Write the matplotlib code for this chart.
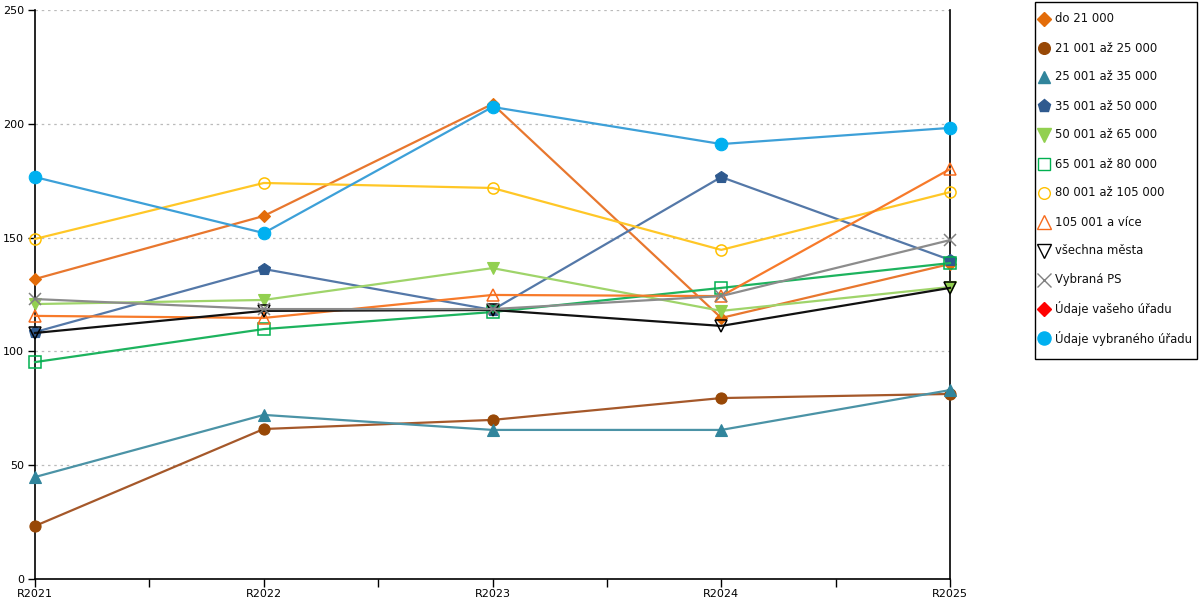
import matplotlib
matplotlib.use("Agg")
import matplotlib.pyplot as plt
import numpy as np
from matplotlib.lines import Line2D
from matplotlib.patches import Rectangle

plt.rcParams['font.family'] = ['DejaVu Sans']

years = ["R2021", "R2022", "R2023", "R2024", "R2025"]

do_21000 = [131.8, 159.5, 208.7, 114.7, 138.4]
s21_25 = [23.3, 65.9, 69.9, 79.5, 81.3]
s25_35 = [44.8, 72.1, 65.5, 65.5, 83.0]
s35_50 = [108.5, 136.2, 118.2, 176.6, 140.2]
s50_65 = [120.8, 122.6, 136.6, 117.8, 128.3]
s65_80 = [95.3, 109.8, 117.3, 127.9, 138.8]
s80_105 = [149.4, 174.0, 171.8, 144.6, 170.0]
s105_plus = [115.6, 114.7, 124.8, 124.3, 180.1]
vsechna = [108.1, 117.8, 118.2, 111.2, 127.9]
vybrana_ps = [123.0, 118.6, 118.6, 124.3, 148.9]
vaseho = [None, None, None, None, None]
vybraneho = [176.6, 152.0, 207.4, 191.1, 198.2]

labels = ["do 21 000", "21 001 až 25 000", "25 001 až 35 000", "35 001 až 50 000",
          "50 001 až 65 000", "65 001 až 80 000", "80 001 až 105 000", "105 001 a více",
          "všechna města", "Vybraná PS", "Údaje vašeho úřadu", "Údaje vybraného úřadu"]

series = [do_21000, s21_25, s25_35, s35_50, s50_65, s65_80, s80_105, s105_plus,
          vsechna, vybrana_ps, vaseho, vybraneho]

# style: (line color, marker, marker face, marker edge, marker size)
styles = [
    ("#E8772E", "D", "#E36C09", "#E36C09", 6.5),
    ("#A5582A", "o", "#984806", "#984806", 8),
    ("#4B93A6", "^", "#31859C", "#31859C", 8),
    ("#5478A8", "p", "#2F5A8F", "#2F5A8F", 9),
    ("#9FD46A", "v", "#92D050", "#92D050", 9),
    ("#1DB35E", "s", "none", "#00B050", 8),
    ("#FFC727", "o", "none", "#FFC000", 8),
    ("#F77A2A", "^", "none", "#F76B1C", 9),
    ("#111111", "v", "none", "#000000", 9),
    ("#8C8C8C", "x", "#808080", "#808080", 9),
    ("#FF0000", "D", "#FF0000", "#FF0000", 6.5),
    ("#3DA0D8", "o", "#00B0F0", "#00B0F0", 9),
]

W, H = 1200, 600
fig = plt.figure(figsize=(12, 6), dpi=100)
ax = fig.add_axes([35/W, 21/H, 915/W, 569/H])

x = np.arange(len(years))
for vals, lab, (lc, m, mf, me, ms) in zip(series, labels, styles):
    y = np.array([np.nan if v is None else v for v in vals], dtype=float)
    ax.plot(x, y, color=lc, lw=1.6, marker=m, markerfacecolor=mf,
            markeredgecolor=me, markersize=ms,
            markeredgewidth=1.1 if (mf == "none" or m == "x") else 0.8,
            clip_on=False, zorder=3)

ax.set_xlim(0, 4)
ax.set_ylim(0, 250)
ax.set_yticks([0, 50, 100, 150, 200, 250])
ax.set_xticks(x)
ax.set_xticklabels(years)
ax.set_xticks(np.arange(0.5, 4, 1), minor=True)
ax.tick_params(axis="x", which="both", direction="out", length=6, width=1, pad=1.5, labelsize=8)
ax.tick_params(axis="y", direction="out", length=5, width=1, pad=3, labelsize=8)
ax.grid(axis="y", color="#BBBBBB", linestyle=(0, (2, 3)), lw=0.9, zorder=0)
ax.set_axisbelow(True)
ax.spines["top"].set_visible(False)
for s in ["left", "right", "bottom"]:
    ax.spines[s].set_color("#000000")
    ax.spines[s].set_linewidth(1.2)

# legend box drawn in figure pixel coordinates
fig.add_artist(Rectangle((1035/W, 1 - 359/H), (1197 - 1035)/W, (359 - 2)/H,
                         transform=fig.transFigure, facecolor="white",
                         edgecolor="black", lw=1.0))
for i, (lab, (lc, m, mf, me, ms)) in enumerate(zip(labels, styles)):
    yy = 1 - (19 + 29 * i) / H
    fig.add_artist(Line2D([1044/W], [yy], transform=fig.transFigure, linestyle="none",
                          marker=m, markerfacecolor=mf, markeredgecolor=me,
                          markersize=ms * 1.05, markeredgewidth=1.0))
    fig.text(1055/W, yy, lab, fontsize=8.4, va="center", ha="left", color="#111111")

fig.savefig("out.png", dpi=100)
